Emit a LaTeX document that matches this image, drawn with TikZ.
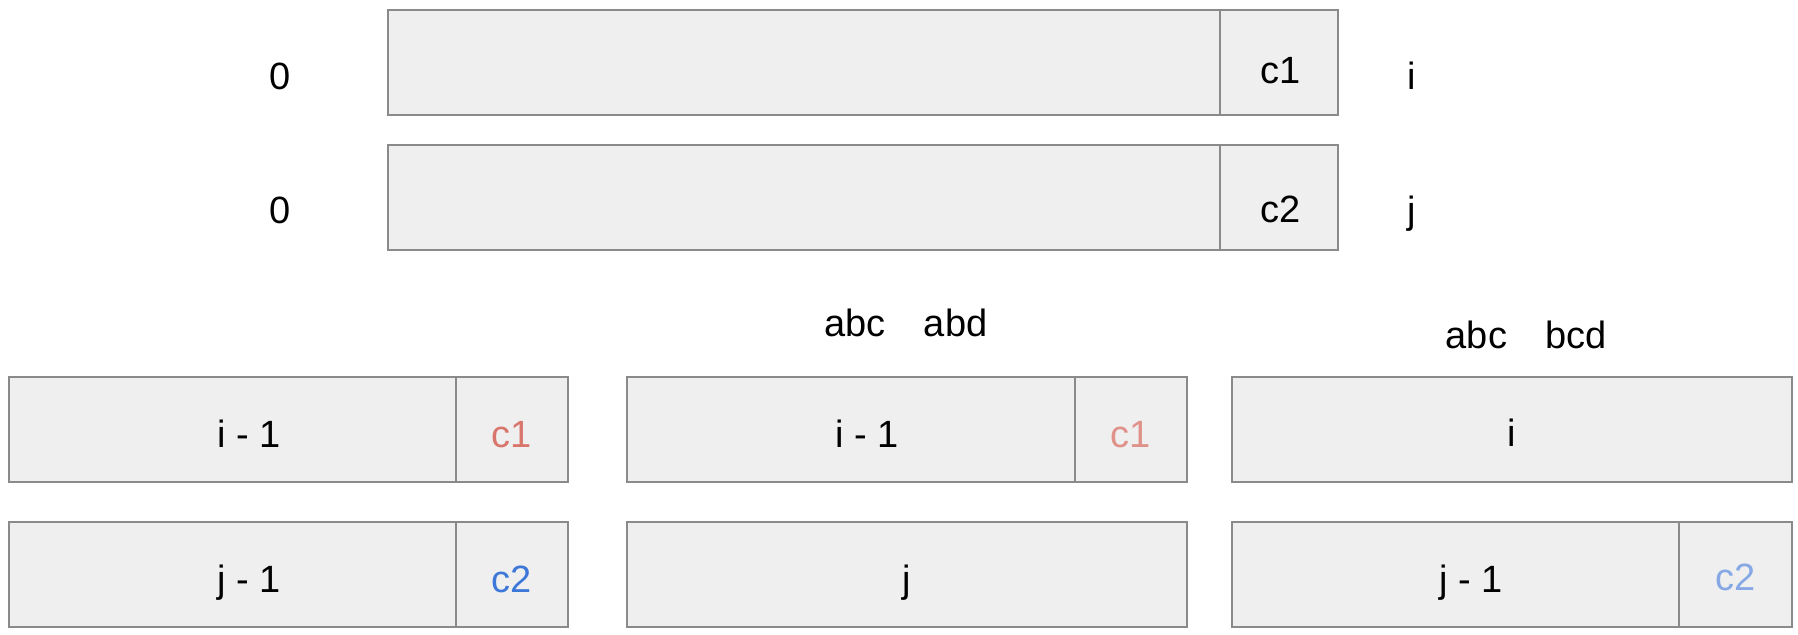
\documentclass[tikz,border=0pt]{standalone}
\usepackage{fontspec}
\setmainfont{Liberation Sans}
\definecolor{cellfill}{HTML}{EFEFEF}
\definecolor{cellline}{HTML}{8A8A8A}
\definecolor{redA}{HTML}{D9766C}
\definecolor{redB}{HTML}{E0928A}
\definecolor{blueA}{HTML}{3D78D8}
\definecolor{blueB}{HTML}{86A8E4}
\begin{document}
\begin{tikzpicture}[x=0.5pt,y=-0.5pt,
  cellbox/.style={draw=cellline,fill=cellfill,line width=1pt,inner sep=0pt,minimum height=52.5pt},
  txt/.style={anchor=base,inner sep=0pt,font=\fontsize{19}{23}\selectfont}]
\useasboundingbox (0,0) rectangle (1798,634);
% top boxes
\node[cellbox,minimum width=416pt] (ta) at (804,62.5) {};
\node[cellbox,minimum width=59pt] (tac) at (1279,62.5) {};
\node[cellbox,minimum width=416pt] (tb) at (804,197) {};
\node[cellbox,minimum width=59pt] (tbc) at (1279,197) {};
\node[txt] (tac1) at (1281,83) {c1};
\node[txt] (tbc2) at (1281,222) {c2};
\node[txt] (z1) at (280,89) {0};
\node[txt] (z2) at (280,223) {0};
\node[txt] (li) at (1412,89) {i};
\node[txt] (lj) at (1412,223) {j};
% bottom left
\node[cellbox,minimum width=223.5pt] (la) at (232.5,429.5) {};
\node[cellbox,minimum width=56pt] (lac) at (512,429.5) {};
\node[cellbox,minimum width=223.5pt] (lb) at (232.5,574) {};
\node[cellbox,minimum width=56pt] (lbc) at (512,574) {};
\node[txt] (lat) at (249,447) {i - 1};
\node[txt,text=redA] (lact) at (512,447) {c1};
\node[txt] (lbt) at (249,592) {j - 1};
\node[txt,text=blueA] (lbct) at (512,592) {c2};
% bottom middle
\node[txt] (mh) at (906,336) {abc\quad abd};
\node[cellbox,minimum width=224pt] (ma) at (851,429.5) {};
\node[cellbox,minimum width=56pt] (mac) at (1131,429.5) {};
\node[cellbox,minimum width=280pt] (mb) at (907,574) {};
\node[txt] (mat) at (867,447) {i - 1};
\node[txt,text=redB] (mact) at (1131,447) {c1};
\node[txt] (mbt) at (907,592) {j};
% bottom right
\node[txt] (rh) at (1526,348) {abc\quad bcd};
\node[cellbox,minimum width=280pt] (ra) at (1512,429.5) {};
\node[cellbox,minimum width=223.5pt] (rb) at (1455.5,574) {};
\node[cellbox,minimum width=56.5pt] (rbc) at (1735.5,574) {};
\node[txt] (rat) at (1512,446) {i};
\node[txt] (rbt) at (1471,592) {j - 1};
\node[txt,text=blueB] (rbct) at (1736,590) {c2};
\end{tikzpicture}
\end{document}
